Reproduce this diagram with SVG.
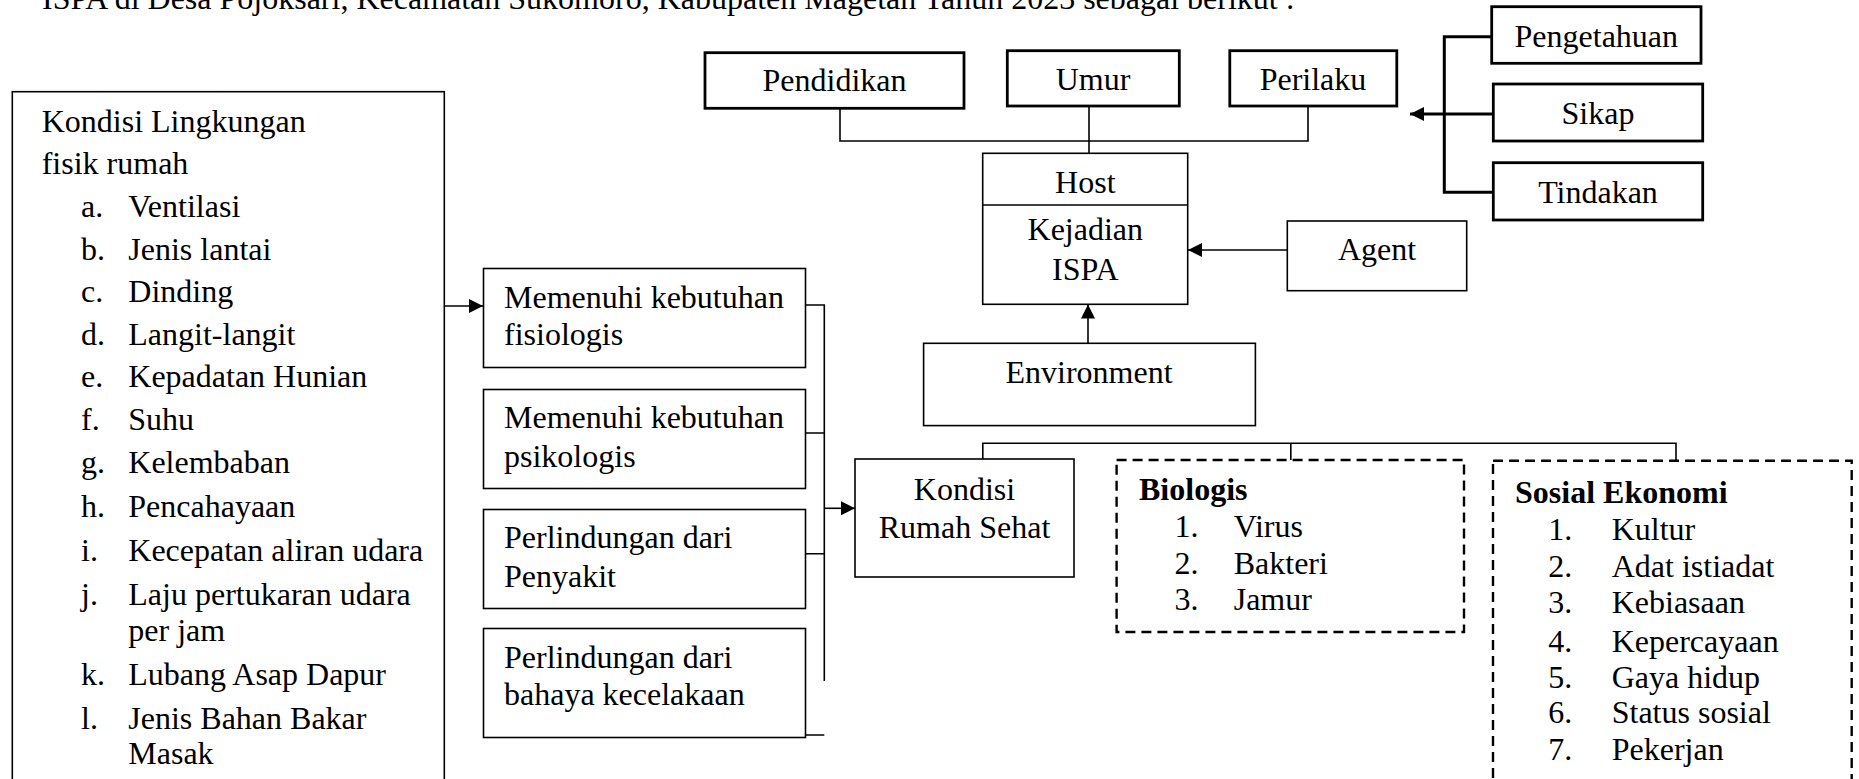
<svg xmlns="http://www.w3.org/2000/svg" width="1859" height="779" viewBox="0 0 1859 779">
<style>
text{font-family:"Liberation Serif","Times New Roman",serif;font-size:32px;fill:#000}
.c{text-anchor:middle}
.b{font-weight:bold}
.thick{fill:#fff;stroke:#000;stroke-width:2.8}
.thin{fill:#fff;stroke:#000;stroke-width:1.6}
.dash{fill:none;stroke:#000;stroke-width:2.4;stroke-dasharray:10 6}
.ln{fill:none;stroke:#000;stroke-width:1.6}
.lnk{fill:none;stroke:#000;stroke-width:3}
</style>
<defs>
<marker id="ah" viewBox="0 0 10 10" refX="10" refY="5" markerWidth="16" markerHeight="14" markerUnits="userSpaceOnUse" orient="auto">
<path d="M0,0 L10,5 L0,10 Z" fill="#000"/>
</marker>
</defs>
<rect width="1859" height="779" fill="#fff"/>
<text x="42" y="9">ISPA di Desa Pojoksari, Kecamatan Sukomoro, Kabupaten Magetan Tahun 2023 sebagai berikut :</text>

<g id="connectors">
<path class="ln" d="M840,108 V141 H1308 V106"/>
<path class="ln" d="M1089,106 V153"/>
<path class="lnk" d="M1491.5,36.7 H1444.3 V192.3 H1493"/>
<path class="lnk" d="M1493,114 H1444.3"/>
<path class="lnk" d="M1444.3,114 H1410" marker-end="url(#ah)"/>
<path class="ln" d="M1287,250 H1188" marker-end="url(#ah)"/>
<path class="ln" d="M1088,343 V304.5" marker-end="url(#ah)"/>
<path class="ln" d="M444,306 H483" marker-end="url(#ah)"/>
<path class="ln" d="M805.7,305 H824.3 V681 M805.7,433 H824.3 M805.7,553.7 H824.3 M805.7,735 H824.3"/>
<path class="ln" d="M824.3,508.3 H855" marker-end="url(#ah)"/>
<path class="ln" d="M982.8,459 V443.3 H1676 V461 M1290.8,443.3 V460"/>
</g>

<g id="kondisi-lingkungan">
<rect class="thin" x="12.3" y="91.7" width="432" height="720"/>
<text x="41.7" y="131.7">Kondisi Lingkungan</text>
<text x="41.7" y="174.3">fisik rumah</text>
<text x="81" y="216.7">a.</text><text x="128.3" y="216.7">Ventilasi</text>
<text x="81" y="260">b.</text><text x="128.3" y="260">Jenis lantai</text>
<text x="81" y="302">c.</text><text x="128.3" y="302">Dinding</text>
<text x="81" y="345">d.</text><text x="128.3" y="345">Langit-langit</text>
<text x="81" y="387">e.</text><text x="128.3" y="387">Kepadatan Hunian</text>
<text x="81" y="430">f.</text><text x="128.3" y="430">Suhu</text>
<text x="81" y="473">g.</text><text x="128.3" y="473">Kelembaban</text>
<text x="81" y="517">h.</text><text x="128.3" y="517">Pencahayaan</text>
<text x="81" y="561">i.</text><text x="128.3" y="561">Kecepatan aliran udara</text>
<text x="81" y="605">j.</text><text x="128.3" y="605">Laju pertukaran udara</text>
<text x="128.3" y="641">per jam</text>
<text x="81" y="685">k.</text><text x="128.3" y="685">Lubang Asap Dapur</text>
<text x="81" y="729">l.</text><text x="128.3" y="729">Jenis Bahan Bakar</text>
<text x="128.3" y="764">Masak</text>
</g>

<g id="fisiologis">
<rect class="thin" x="483.5" y="268.5" width="322" height="99"/>
<text x="504" y="308">Memenuhi kebutuhan</text>
<text x="504" y="345">fisiologis</text>
</g>
<g id="psikologis">
<rect class="thin" x="483.5" y="389.5" width="322" height="99"/>
<text x="504" y="428">Memenuhi kebutuhan</text>
<text x="504" y="467">psikologis</text>
</g>
<g id="penyakit">
<rect class="thin" x="483.5" y="509.5" width="322" height="99"/>
<text x="504" y="548">Perlindungan dari</text>
<text x="504" y="587">Penyakit</text>
</g>
<g id="kecelakaan">
<rect class="thin" x="483.5" y="628.5" width="322" height="109"/>
<text x="504" y="668">Perlindungan dari</text>
<text x="504" y="705">bahaya kecelakaan</text>
</g>

<g id="rumah-sehat">
<rect class="thin" x="855" y="459" width="219" height="118"/>
<text class="c" x="964.5" y="500">Kondisi</text>
<text class="c" x="964.5" y="538">Rumah Sehat</text>
</g>

<g id="pendidikan">
<rect class="thick" x="705" y="52.7" width="259" height="55.6"/>
<text class="c" x="834.5" y="91">Pendidikan</text>
</g>
<g id="umur">
<rect class="thick" x="1007.3" y="50.7" width="172" height="55.3"/>
<text class="c" x="1093" y="90">Umur</text>
</g>
<g id="perilaku">
<rect class="thick" x="1229.8" y="50.7" width="167" height="55.3"/>
<text class="c" x="1313" y="90">Perilaku</text>
</g>
<g id="pengetahuan">
<rect class="thick" x="1491.7" y="6.7" width="209.3" height="56.6"/>
<text class="c" x="1596.3" y="46.5">Pengetahuan</text>
</g>
<g id="sikap">
<rect class="thick" x="1493.3" y="84" width="209.4" height="57"/>
<text class="c" x="1598" y="124">Sikap</text>
</g>
<g id="tindakan">
<rect class="thick" x="1493.3" y="162.7" width="209.4" height="57.3"/>
<text class="c" x="1598" y="203">Tindakan</text>
</g>

<g id="host">
<rect class="thin" x="982.7" y="153.3" width="205" height="151"/>
<line class="ln" x1="982.7" y1="205" x2="1187.7" y2="205"/>
<text class="c" x="1085.3" y="193">Host</text>
<text class="c" x="1085.3" y="240">Kejadian</text>
<text class="c" x="1085.3" y="280">ISPA</text>
</g>
<g id="agent">
<rect class="thin" x="1287.3" y="221" width="179.4" height="69.7"/>
<text class="c" x="1377" y="260">Agent</text>
</g>
<g id="environment">
<rect class="thin" x="923.6" y="343.3" width="331.8" height="82.3"/>
<text class="c" x="1089" y="383">Environment</text>
</g>

<g id="biologis">
<rect class="dash" x="1116.6" y="460" width="347.4" height="172"/>
<text class="b" x="1139" y="500">Biologis</text>
<text x="1174.6" y="536.7">1.</text><text x="1233.7" y="536.7">Virus</text>
<text x="1174.6" y="574">2.</text><text x="1233.7" y="574">Bakteri</text>
<text x="1174.6" y="610">3.</text><text x="1233.7" y="610">Jamur</text>
</g>
<g id="sosial-ekonomi">
<rect class="dash" x="1493" y="460.7" width="358.7" height="360"/>
<text class="b" x="1515" y="503">Sosial Ekonomi</text>
<text x="1548.3" y="540">1.</text><text x="1611.7" y="540">Kultur</text>
<text x="1548.3" y="576.7">2.</text><text x="1611.7" y="576.7">Adat istiadat</text>
<text x="1548.3" y="613.3">3.</text><text x="1611.7" y="613.3">Kebiasaan</text>
<text x="1548.3" y="651.7">4.</text><text x="1611.7" y="651.7">Kepercayaan</text>
<text x="1548.3" y="688.3">5.</text><text x="1611.7" y="688.3">Gaya hidup</text>
<text x="1548.3" y="723.3">6.</text><text x="1611.7" y="723.3">Status sosial</text>
<text x="1548.3" y="760">7.</text><text x="1611.7" y="760">Pekerjan</text>
</g>
</svg>
